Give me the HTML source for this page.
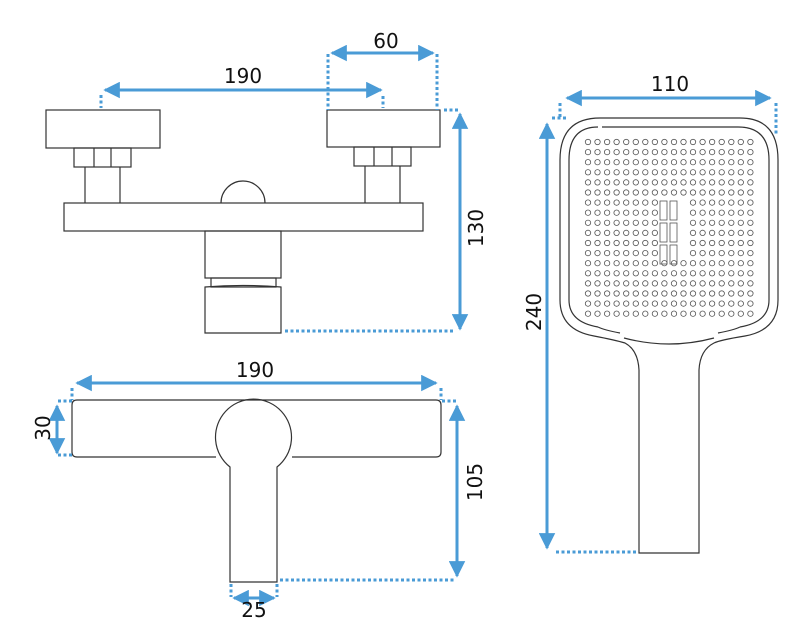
<!DOCTYPE html>
<html><head><meta charset="utf-8"><style>
html,body{margin:0;padding:0;background:#fff;}
svg{display:block;}
text{font-family:"DejaVu Sans","Liberation Sans",sans-serif;font-size:20px;fill:#111;}
</style></head><body>
<svg id="s" width="797" height="633" viewBox="0 0 797 633" xmlns="http://www.w3.org/2000/svg">
<defs>
<marker id="a" viewBox="0 0 10 10" refX="9" refY="5" markerWidth="5.5" markerHeight="5.5" orient="auto-start-reverse"><path d="M0,0 L10,5 L0,10 z" fill="#4a9bd6"/></marker>
</defs>
<g fill="none" stroke="#333" stroke-width="1.2">
<rect x="46" y="110" width="114" height="38"/>
<rect x="74" y="148" width="57" height="19"/><line x1="94" y1="148" x2="94" y2="167"/><line x1="111" y1="148" x2="111" y2="167"/>
<line x1="85" y1="167" x2="85" y2="203"/><line x1="120" y1="167" x2="120" y2="203"/>
<rect x="327" y="110" width="113" height="37"/>
<rect x="354" y="147" width="57" height="19"/><line x1="374" y1="147" x2="374" y2="166"/><line x1="392" y1="147" x2="392" y2="166"/>
<line x1="365" y1="166" x2="365" y2="203"/><line x1="400" y1="166" x2="400" y2="203"/>
<rect x="64" y="203" width="359" height="28"/>
<path d="M221,203 A22,22 0 0 1 265,203"/>
<rect x="205" y="231" width="76" height="47"/>
<rect x="211" y="278" width="65" height="9"/>
<path d="M205,287 Q243,284 281,287 L281,333 L205,333 Z"/>
<path d="M77,400 H436 Q441,400 441,405 V452 Q441,457 436,457 H292 M216,457 H77 Q72,457 72,452 V405 Q72,400 77,400"/>
<path d="M230,467 A38,38 0 1 1 277,467 V582 H230 Z"/>
<path d="M600,118 H740 Q778,118 778,160 V300 Q778,330 745,336 Q720,340 714,343 Q700,350 699,370 V553 H639 V370 Q638,350 625,343 Q615,340 594,336 Q560,330 560,300 V160 Q560,118 600,118 Z"/>
<path d="M602,127 H738 Q769,127 769,160 V300 Q769,322 740,327 M598,127 Q569,127 569,160 V300 Q569,322 598,327" />
<path d="M598,327 Q604,330 620,333 M740,327 Q734,330 718,333"/>
<path d="M624,338 Q669,350 714,338"/>
</g>
<g id="dots" fill="none" stroke="#555" stroke-width="0.8"></g>
<g fill="none" stroke="#4a9bd6" stroke-width="3" marker-start="url(#a)" marker-end="url(#a)">
<line x1="105" y1="90" x2="381" y2="90"/>
<line x1="332" y1="53" x2="433" y2="53"/>
<line x1="460" y1="114" x2="460" y2="329"/>
<line x1="77" y1="383" x2="436" y2="383"/>
<line x1="57" y1="406" x2="57" y2="453"/>
<line x1="457" y1="406" x2="457" y2="576"/>
<line x1="234" y1="598" x2="274" y2="598"/>
<line x1="567" y1="98" x2="770" y2="98"/>
<line x1="547" y1="124" x2="547" y2="548"/>
</g>
<g fill="none" stroke="#4a9bd6" stroke-width="3" stroke-dasharray="3,2.5">
<line x1="101" y1="95" x2="101" y2="108"/><line x1="383" y1="96" x2="383" y2="108"/>
<line x1="328" y1="54" x2="328" y2="110"/><line x1="437" y1="54" x2="437" y2="110"/>
<line x1="444" y1="110" x2="458" y2="110"/><line x1="285" y1="331" x2="454" y2="331"/>
<line x1="72" y1="388" x2="72" y2="400"/><line x1="441" y1="388" x2="441" y2="400"/>
<line x1="58" y1="401" x2="72" y2="401"/><line x1="58" y1="455" x2="72" y2="455"/>
<line x1="442" y1="401" x2="458" y2="401"/><line x1="280" y1="580" x2="455" y2="580"/>
<line x1="231" y1="584" x2="231" y2="597"/><line x1="277" y1="584" x2="277" y2="597"/>
<line x1="560" y1="103" x2="560" y2="117"/><line x1="552" y1="118" x2="568" y2="118"/>
<line x1="776" y1="103" x2="776" y2="134"/>
<line x1="556" y1="552" x2="638" y2="552"/>
</g>
<text x="243" y="83" text-anchor="middle">190</text>
<text x="386" y="48" text-anchor="middle">60</text>
<text x="255" y="377" text-anchor="middle">190</text>
<text x="254" y="617" text-anchor="middle">25</text>
<text x="670" y="91" text-anchor="middle">110</text>
<text transform="translate(483,228) rotate(-90)" text-anchor="middle">130</text>
<text transform="translate(50,428) rotate(-90)" text-anchor="middle">30</text>
<text transform="translate(482,482) rotate(-90)" text-anchor="middle">105</text>
<text transform="translate(541,312) rotate(-90)" text-anchor="middle">240</text>
</svg>
<script>
var g=document.getElementById('dots'),h='';
for(var r=0;r<18;r++){for(var c=0;c<18;c++){
 if(r>=6&&r<=11&&c>=8&&c<=10)continue;
 var x=588+c*9.55,y=142+r*10.1;
 h+='<circle cx="'+x.toFixed(1)+'" cy="'+y.toFixed(1)+'" r="2.7"/>';}}
for(var k=0;k<3;k++){var y0=201+k*22;
 h+='<rect x="660" y="'+y0+'" width="7" height="19"/><rect x="670" y="'+y0+'" width="7" height="19"/>';}
g.innerHTML=h;
</script>
</body></html>
